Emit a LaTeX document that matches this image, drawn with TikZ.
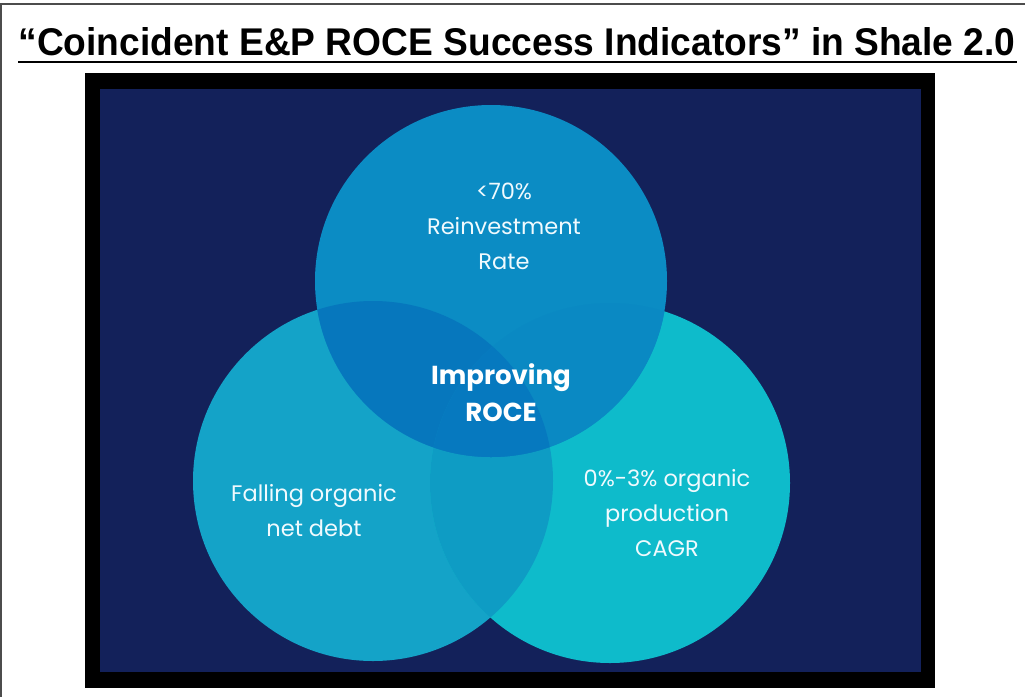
\documentclass[tikz,border=0pt]{standalone}
\usepackage{fontspec}
\setmainfont{Poppins}
\newfontfamily\titlefont{Liberation Sans}
\usepackage{xcolor}

\definecolor{navy}{HTML}{13215A}
\definecolor{ctop}{HTML}{0B8CC4}
\definecolor{cleft}{HTML}{14A3C8}
\definecolor{cright}{HTML}{0EBBCB}
\definecolor{ctl}{HTML}{0677BD}
\definecolor{ctr}{HTML}{0A89C3}
\definecolor{clr}{HTML}{0E9CC4}
\definecolor{cmid}{HTML}{0679BF}

\tikzset{
  venntext/.style={text=white!94!cyan, align=center, font=\fontsize{22.5}{35}\selectfont},
  venntitle/.style={text=white, align=center, font=\bfseries\fontsize{26}{37}\selectfont}
}

\begin{document}
\begin{tikzpicture}[x=1pt,y=-1pt]
        \useasboundingbox (0,0) rectangle (1025,697);
        \fill[white] (0,0) rectangle (1025,697);

        % page edges
        \draw[line width=1.5pt, black!70] (0,4) -- (1025,4);
        \draw[line width=1.5pt, black!70] (1,4) -- (1,697);

        % title
        \node[anchor=base, inner sep=0pt] (title) at (517,55)
          {\resizebox{997pt}{28pt}{\titlefont\bfseries “Coincident E\&P ROCE Success Indicators” in Shale 2.0}};
        \draw[line width=2.5pt] (18,62) -- (1017,62);

        % black frame and navy panel
        \fill[black] (85,73) rectangle (935,688);
        \fill[navy] (100,89) rectangle (921,672);

        % circle centres
        \coordinate (T) at (491,281);
        \coordinate (L) at (373,481);
        \coordinate (R) at (610,483);

        % circles
        \fill[cleft] (L) circle (180);
        \fill[cright] (R) circle (180);
        \fill[ctop] (T) circle (176);

        % overlaps
        \begin{scope}
          \clip (L) circle (180);
          \fill[clr] (R) circle (180);
          \fill[ctl] (T) circle (176);
        \end{scope}
        \begin{scope}
          \clip (R) circle (180);
          \fill[ctr] (T) circle (176);
        \end{scope}
        \begin{scope}
          \clip (L) circle (180);
          \clip (R) circle (180);
          \fill[cmid] (T) circle (176);
        \end{scope}

        % labels
        \node[venntext] (reinvest) at (504,226) {<70\%\\Reinvestment\\Rate};
        \node[venntitle] (roce) at (501,393) {Improving\\ROCE};
        \node[venntext] (debt) at (314,511) {Falling organic\\net debt};
        \node[venntext] (growth) at (667,513) {0\%-3\% organic\\production\\CAGR};
\end{tikzpicture}
\end{document}
